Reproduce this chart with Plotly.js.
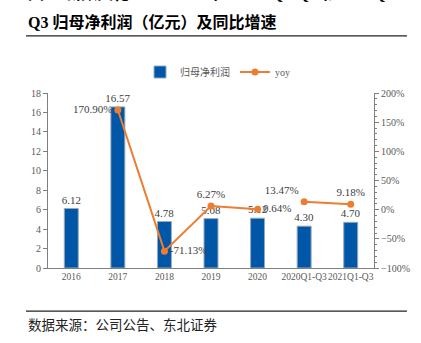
<!DOCTYPE html>
<html><head><meta charset="utf-8">
<script src="https://cdn.plot.ly/plotly-3.0.1.min.js"></script>
<style>html,body{margin:0;padding:0;background:#fff}#c{width:421px;height:343px}</style>
</head><body><div id="c"></div>
<script>
const categories = ['2016','2017','2018','2019','2020','2020Q1-Q3','2021Q1-Q3'];
const profit = [6.12, 16.57, 4.78, 5.08, 5.12, 4.30, 4.70];
const yoyAnnualCats = ['2017','2018','2019','2020'];
const yoyAnnual = [170.90, -71.13, 6.27, 0.64];
const yoyQuarterCats = ['2020Q1-Q3','2021Q1-Q3'];
const yoyQuarter = [13.47, 9.18];
const titleLine1 = '图 2: 新数文化 2016-2020 年、2020Q1-Q3 和 2021Q1-';
const titleLine2 = 'Q3 归母净利润（亿元）及同比增速';
const sourceText = '数据来源：公司公告、东北证券';

const serif = '"Liberation Serif", "Noto Sans CJK SC", serif';
const gray = '#595959';
const orange = '#ED7D31';
const lf = () => ({family:serif, size:11, color:'#404040'});

const traces = [
  {type:'bar', x:categories, y:profit, name:'归母净利润', width:0.3,
   marker:{color:'#0057A8', line:{color:'#9AA8B8', width:1}},
   text:profit.map(v=>v.toFixed(2)), textposition:'outside', cliponaxis:false,
   constraintext:'none', textfont:lf()},
  {type:'scatter', mode:'lines+markers+text', x:yoyAnnualCats, y:yoyAnnual, name:'yoy', yaxis:'y2',
   line:{color:orange, width:2}, marker:{color:orange, size:7},
   text:yoyAnnual.map(v=>v.toFixed(2)+'%'),
   textposition:['middle left','middle right','top center','middle right'], cliponaxis:false,
   textfont:lf()},
  {type:'scatter', mode:'lines+markers+text', x:yoyQuarterCats, y:yoyQuarter, name:'yoy', yaxis:'y2', showlegend:false,
   line:{color:orange, width:2}, marker:{color:orange, size:7},
   text:yoyQuarter.map(v=>v.toFixed(2)+'%'),
   textposition:['top left','top center'], cliponaxis:false,
   textfont:lf()}
];

const layout = {
  width:421, height:343,
  margin:{l:48, r:47, t:93, b:75},
  paper_bgcolor:'#fff', plot_bgcolor:'#fff',
  showlegend:true,
  legend:{orientation:'h', x:0.52, xanchor:'center', y:1.12, yanchor:'middle',
          font:{family:serif, size:10, color:gray}, tracegroupgap:0},
  xaxis:{type:'category', categoryorder:'array', categoryarray:categories, tickangle:0,
         showline:true, linecolor:'#7f7f7f', linewidth:1, ticks:'', showgrid:false,
         tickfont:{family:serif, size:9.5, color:gray}},
  yaxis:{range:[0,18], dtick:2, showline:true, linecolor:'#7f7f7f', linewidth:1,
         ticks:'outside', ticklen:4, tickcolor:'#7f7f7f', showgrid:false, zeroline:false,
         tickfont:{family:serif, size:10, color:gray}},
  yaxis2:{overlaying:'y', side:'right', range:[-100,200], dtick:50, ticksuffix:'%',
          showline:true, linecolor:'#7f7f7f', linewidth:1, ticks:'outside', ticklen:4,
          tickcolor:'#7f7f7f', showgrid:false, zeroline:false,
          minor:{dtick:10, ticks:'outside', ticklen:2, tickcolor:'#7f7f7f', showgrid:false},
          tickfont:{family:serif, size:10, color:gray}},
  shapes:[
    {type:'line', xref:'paper', yref:'paper', x0:-0.0675, x1:1.101, y0:1.326, y1:1.326, line:{color:'#222', width:1.3}},
    {type:'line', xref:'paper', yref:'paper', x0:-0.0675, x1:1.101, y0:-0.246, y1:-0.246, line:{color:'#222', width:1.3}}
  ],
  annotations:[
    {xref:'paper', yref:'paper', x:-0.0675, y:1.57, xanchor:'left', yanchor:'middle', showarrow:false,
     text:'<b>'+titleLine1+'</b>', font:{family:serif, size:16, color:'#000'}},
    {xref:'paper', yref:'paper', x:-0.0675, y:1.406, xanchor:'left', yanchor:'middle', showarrow:false,
     text:'<b>'+titleLine2+'</b>', font:{family:serif, size:16, color:'#000'}},
    {xref:'paper', yref:'paper', x:-0.0675, y:-0.331, xanchor:'left', yanchor:'middle', showarrow:false,
     text:sourceText, font:{family:serif, size:13.5, color:'#222'}}
  ]
};
Plotly.newPlot('c', traces, layout, {displayModeBar:false, staticPlot:true});
</script></body></html>
